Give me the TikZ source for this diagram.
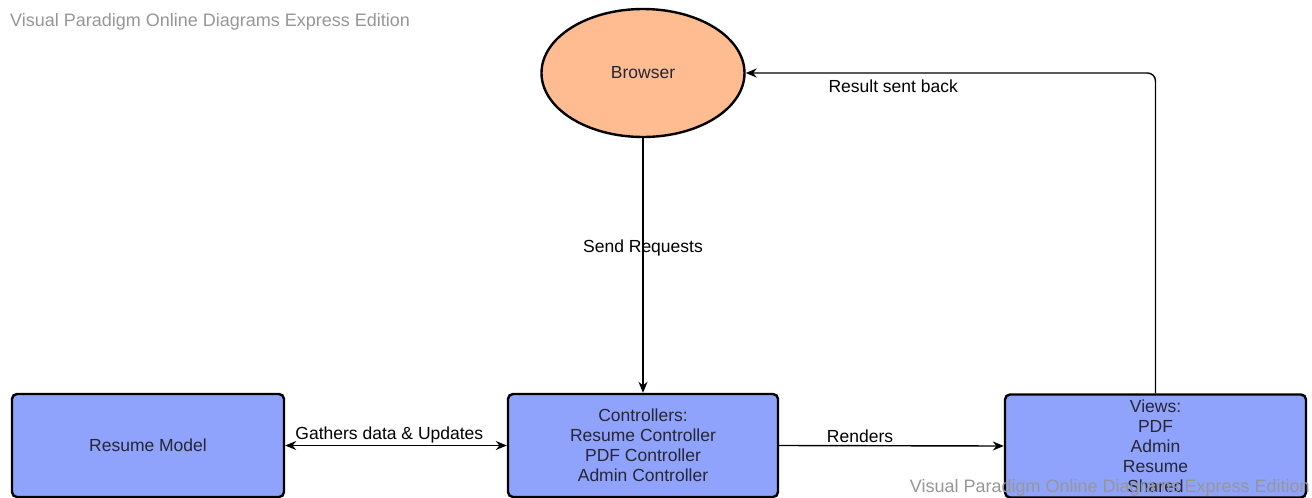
\documentclass[tikz,border=0pt]{standalone}
\usepackage{fontspec}
\setmainfont{Liberation Sans}
\usetikzlibrary{arrows.meta,shapes.geometric}
\definecolor{boxblue}{RGB}{143,163,252}
\definecolor{browserfill}{RGB}{255,188,145}
\definecolor{wmgray}{RGB}{150,150,150}
\definecolor{boxtext}{RGB}{38,38,52}
\tikzset{
  box/.style={draw=black, line width=2.4pt, rounded corners=5pt, fill=boxblue,
    minimum height=103pt, align=center, text=boxtext,
    font=\fontsize{17.5}{20}\selectfont, inner sep=0pt},
  conn/.style={line width=1.4pt, -{Stealth[length=11pt,width=9pt]}},
  lbl/.style={font=\fontsize{17.5}{20}\selectfont, text=black},
  wm/.style={font=\fontsize{18}{20}\selectfont, text=wmgray, inner sep=0pt}
}
\begin{document}
\begin{tikzpicture}[x=1pt,y=-1pt]
\useasboundingbox (0,0) rectangle (1312,498);
\node[wm, anchor=west] (wmtop) at (10,22) {Visual Paradigm Online Diagrams Express Edition};
\node[draw=black, line width=2.4pt, ellipse, fill=browserfill, minimum width=203pt,
  minimum height=128pt, inner sep=0pt, text=boxtext,
  font=\fontsize{17.5}{20}\selectfont] (browser) at (643,73) {Browser};
\node[box, minimum width=272pt] (model) at (148,445.5) {Resume Model};
\node[box, minimum width=270pt] (ctrl) at (643,445.5) {Controllers:\\Resume Controller\\PDF Controller\\Admin Controller};
\node[box, minimum width=301pt] (views) at (1155.5,446) {Views:\\PDF\\Admin\\Resume\\Shared};
\draw[conn] (browser.south) -- node[lbl, pos=0.43] {Send Requests} (ctrl.north);
\draw[conn, {Stealth[length=11pt,width=9pt]}-{Stealth[length=11pt,width=9pt]}] (model.east) -- node[lbl, above, pos=0.47, inner sep=2pt] {Gathers data \& Updates} (ctrl.west);
\draw[conn] (ctrl.east) -- node[lbl, above, pos=0.36, inner sep=2pt] {Renders} (views.west);
\draw[conn, rounded corners=8pt] (views.north) |- node[lbl, below, pos=0.82, inner sep=6pt] {Result sent back} (browser.east);
\node[wm, anchor=east] (wmbot) at (1310,488) {Visual Paradigm Online Diagrams Express Edition};
\end{tikzpicture}
\end{document}
